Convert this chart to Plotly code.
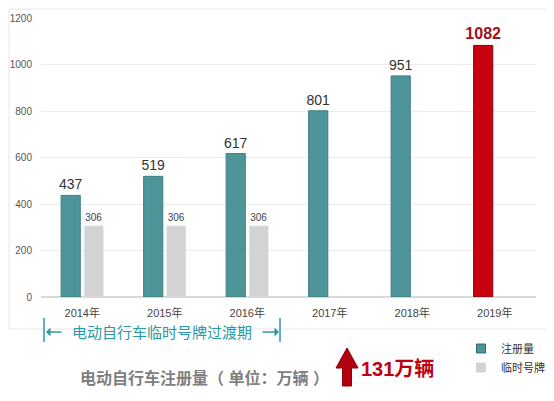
import plotly.graph_objects as go

years = ["2014年", "2015年", "2016年", "2017年", "2018年", "2019年"]
registered = [437, 519, 617, 801, 951, 1082]
temp_plates = [306, 306, 306, None, None, None]

# the page body adds an 8px margin, so the figure is a bit smaller than the window
W, H = 546, 393
L, R, T, B = 33, 18, 10, 104
PLOT_X0, PLOT_Y0 = 41, 297   # plot corner as seen in the window


# window pixel -> paper helpers for the decorations
def px(x):
    return (x - PLOT_X0) / (W - L - R)


def py(y):
    return (PLOT_Y0 - y) / (H - T - B)


teal = "#4d9598"
red = "#c8000f"
gray = "#d3d3d3"
bar_colors = [teal] * 5 + [red]
reg_text = [str(v) for v in registered[:-1]] + ["<b>%d</b>" % registered[-1]]
reg_font_col = ["#333333"] * 5 + ["#a0101e"]
reg_font_size = [14] * 5 + [16]

fig = go.Figure()
fig.add_trace(go.Bar(
    x=years, y=registered, name="注册量", showlegend=False,
    marker=dict(color=bar_colors, line=dict(color=["#3f8084"] * 5 + ["#8a0010"], width=1)),
    text=reg_text, textposition="outside", cliponaxis=False, constraintext="none",
    textfont=dict(color=reg_font_col, size=reg_font_size),
))
fig.add_trace(go.Bar(
    x=years, y=temp_plates, name="临时号牌", showlegend=False,
    marker=dict(color=gray),
    text=[str(v) if v else "" for v in temp_plates], textposition="outside", cliponaxis=False,
    constraintext="none", textfont=dict(color="#444444", size=10),
))
# legend entries with small square swatches
for nm, col, edge in [("注册量", teal, "#2f6f72"), ("临时号牌", gray, gray)]:
    fig.add_trace(go.Scatter(x=[None], y=[None], mode="markers", name=nm,
                             marker=dict(symbol="square", size=9, color=col,
                                         line=dict(color=edge, width=1))))

teal_txt = "#2b9aa6"
shapes = [
    # light frame around the chart
    dict(type="rect", xref="paper", yref="paper", x0=px(9), x1=px(549), y0=py(329), y1=py(9),
         line=dict(color="#e6e6e6", width=1), layer="below"),
    # bracket ends
    dict(type="line", xref="paper", yref="paper", x0=px(44), x1=px(44), y0=py(318), y1=py(342),
         line=dict(color=teal_txt, width=1.5)),
    dict(type="line", xref="paper", yref="paper", x0=px(280), x1=px(280), y0=py(318), y1=py(342),
         line=dict(color=teal_txt, width=1.5)),
    # red up arrow
    dict(type="path", xref="paper", yref="paper",
         path="M {0},{1} L {2},{3} L {4},{3} L {4},{5} L {6},{5} L {6},{3} L {7},{3} Z".format(
             px(347), py(348), px(358), py(368), px(351.5), py(386), px(342.5), px(336)),
         fillcolor="#b3000f", line=dict(color="#8a000c", width=1)),
]

annotations = [
    dict(text="电动自行车临时号牌过渡期", xref="paper", yref="paper", x=px(162), y=py(332),
         xanchor="center", yanchor="middle",
         showarrow=False, font=dict(size=15, color=teal_txt)),
    dict(x=px(46), y=py(332), ax=17, ay=0, xref="paper", yref="paper",
         text="", showarrow=True, arrowhead=1, arrowsize=1,
         arrowwidth=1.5, arrowcolor=teal_txt),
    dict(x=px(279), y=py(332), ax=-18, ay=0, xref="paper", yref="paper",
         text="", showarrow=True, arrowhead=1, arrowsize=1,
         arrowwidth=1.5, arrowcolor=teal_txt),
    dict(text="<b>电动自行车注册量（ 单位：万辆 ）</b>", xref="paper", yref="paper", x=px(204), y=py(378),
         xanchor="center", yanchor="middle",
         showarrow=False, font=dict(size=16, color="#7f7f7f")),
    dict(text="<b>131万辆</b>", xref="paper", yref="paper", x=px(359), y=py(369),
         xanchor="left", yanchor="middle",
         showarrow=False, font=dict(size=20, color="#c00010")),
]

fig.update_layout(
    width=W, height=H,
    margin=dict(l=L, r=R, t=T, b=B, autoexpand=False),
    paper_bgcolor="white", plot_bgcolor="white",
    font=dict(family="Liberation Sans, Noto Sans CJK SC", color="#555555"),
    barmode="group", bargap=0.44, bargroupgap=0.17,
    showlegend=True,
    legend=dict(x=px(461), y=py(334), xanchor="left", yanchor="top",
                font=dict(size=11, color="#333333"), bgcolor="rgba(0,0,0,0)",
                itemwidth=30, tracegroupgap=0),
    shapes=shapes, annotations=annotations,
    xaxis=dict(showgrid=False, showline=False, ticks="", ticklabelstandoff=8,
               tickfont=dict(size=11, color="#444444")),
    yaxis=dict(range=[0, 1200], dtick=200, showgrid=True, gridcolor="#ececec", zeroline=True,
               zerolinecolor="#d9d9d9", tickfont=dict(size=10, color="#555555"),
               ticklabelstandoff=8),
)

fig.write_html("out.html")
